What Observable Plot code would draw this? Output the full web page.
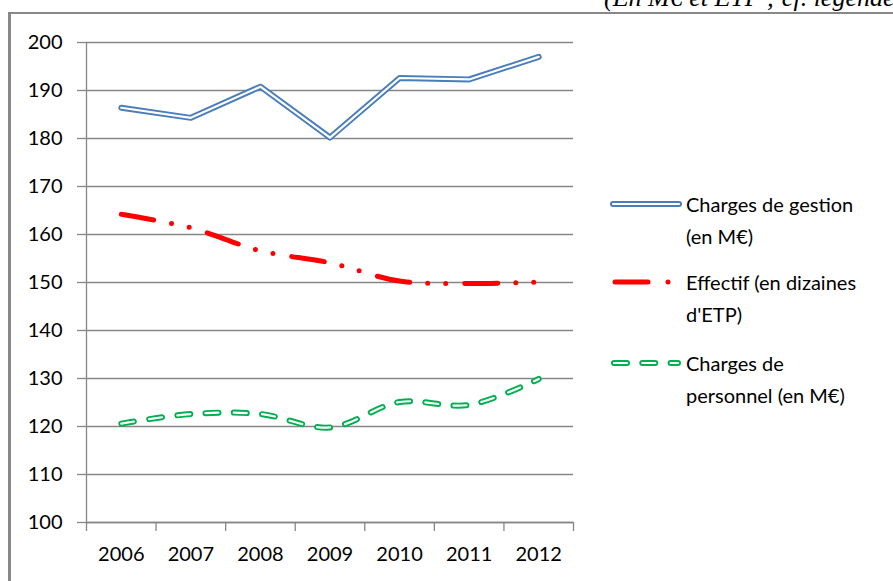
<!DOCTYPE html>
<html>
<head>
<meta charset="utf-8">
<script src="https://cdn.jsdelivr.net/npm/d3@7"></script>
<script src="https://cdn.jsdelivr.net/npm/@observablehq/plot@0.6"></script>
<style>
  html, body { margin: 0; padding: 0; background: #fff; }
  #wrap { position: relative; width: 893px; height: 581px; overflow: hidden; font-family: Lato, "Open Sans", sans-serif; }
  #title { position: absolute; left: 604px; top: -17px; font-family: "Liberation Serif", "DejaVu Serif", serif; font-style: italic; font-size: 26px; white-space: nowrap; color: #000; }
  #frameTop { position: absolute; left: 9px; top: 12px; width: 884px; height: 2px; background: #888; }
  #frameLeft { position: absolute; left: 8px; top: 12px; width: 3px; height: 569px; background: #888; }
  #chart { position: absolute; left: 0; top: 0; }
  .leg { position: absolute; left: 608px; font-size: 20px; line-height: 32px; color: #000; }
  .leg svg { position: absolute; left: 0; top: 0; }
  .leg span { display: block; margin-left: 78px; white-space: nowrap; }
</style>
</head>
<body>
<div id="wrap">
  <div id="title">(En M€ et ETP ; cf. légende)</div>
  <div id="chart"></div>
  <div id="frameTop"></div>
  <div id="frameLeft"></div>
  <div id="legend"></div>
</div>
<script>
const years = [2006, 2007, 2008, 2009, 2010, 2011, 2012];
const chargesGestion = [186.4, 184.3, 190.8, 180.2, 192.6, 192.3, 197.0];
const effectif = [164.2, 161.4, 156.6, 154.1, 150.3, 149.8, 150.1];
const chargesPersonnel = [120.6, 122.6, 122.6, 119.8, 125.1, 124.5, 129.9];
const yTicks = [100, 110, 120, 130, 140, 150, 160, 170, 180, 190, 200];
const seriesNames = ["Charges de gestion|(en M€)", "Effectif (en dizaines|d'ETP)", "Charges de|personnel (en M€)"];
const colors = ["#4a7ebb", "#ff0000", "#00b050"];

const gestion = years.map((y, i) => ({year: y, value: chargesGestion[i]}));
const eff = years.map((y, i) => ({year: y, value: effectif[i]}));
const pers = years.map((y, i) => ({year: y, value: chargesPersonnel[i]}));
const bounds = d3.range(years.length + 1).map(i => years[0] - 0.5 + i);

const chart = Plot.plot({
  width: 893,
  height: 581,
  marginLeft: 86,
  marginRight: 320,
  marginTop: 42,
  marginBottom: 59,
  style: {fontFamily: "Lato, 'Open Sans', sans-serif", fontSize: "20px", color: "#000", background: "transparent"},
  x: {type: "linear", domain: [years[0] - 0.5, years[years.length - 1] + 0.5]},
  y: {domain: [100, 200]},
  marks: [
    Plot.gridY(yTicks, {stroke: "#868686", strokeOpacity: 1, strokeWidth: 1.3}),
    Plot.axisY(yTicks, {tickSize: 9, tickPadding: 15, stroke: "#868686", strokeWidth: 1.3, fontSize: 20, label: null}),
    Plot.axisX(bounds, {tickSize: 9, tickFormat: () => "", stroke: "#868686", strokeWidth: 1.3, label: null}),
    Plot.axisX(years, {tickSize: 0, tickPadding: 24, tickFormat: d => String(d), fontSize: 20, label: null}),
    Plot.ruleX([bounds[0]], {stroke: "#868686", strokeWidth: 1.3}),
    Plot.ruleY([100], {stroke: "#868686", strokeWidth: 1.3}),
    // Charges de gestion: double (hollow) solid line
    Plot.line(gestion, {x: "year", y: "value", stroke: colors[0], strokeWidth: 6}),
    Plot.line(gestion, {x: "year", y: "value", stroke: "#fff", strokeWidth: 2.2}),
    // Effectif: dash-dot-dot, smoothed
    Plot.line(eff, {x: "year", y: "value", curve: "catmull-rom", stroke: colors[1], strokeWidth: 5, strokeLinecap: "round", strokeDasharray: "33 18 0 18 0 19"}),
    // Charges de personnel: double (hollow) dashed, smoothed
    Plot.line(pers, {x: "year", y: "value", curve: "catmull-rom", stroke: colors[2], strokeWidth: 6, strokeLinecap: "round", strokeDasharray: "13 15.3"}),
    Plot.line(pers, {x: "year", y: "value", curve: "catmull-rom", stroke: "#fff", strokeWidth: 2.2, strokeLinecap: "round", strokeDasharray: "13 15.3"})
  ]
});
document.getElementById("chart").appendChild(chart);

// Legend
const legendTops = [188, 266, 347];
const legend = document.getElementById("legend");
const sampleSvgs = [
  `<line x1="5" y1="16" x2="71" y2="16" stroke="${colors[0]}" stroke-width="6" stroke-linecap="round"/><line x1="5" y1="16" x2="71" y2="16" stroke="#fff" stroke-width="2.2" stroke-linecap="round"/>`,
  `<line x1="7" y1="16" x2="40" y2="16" stroke="${colors[1]}" stroke-width="5" stroke-linecap="round"/><circle cx="60" cy="16" r="2.5" fill="${colors[1]}"/>`,
  `<g stroke-linecap="round"><line x1="6" y1="16" x2="70" y2="16" stroke="${colors[2]}" stroke-width="6" stroke-dasharray="13 15.3"/><line x1="6" y1="16" x2="70" y2="16" stroke="#fff" stroke-width="2.2" stroke-dasharray="13 15.3"/></g>`
];
seriesNames.forEach((name, i) => {
  const div = document.createElement("div");
  div.className = "leg";
  div.style.top = legendTops[i] + "px";
  div.innerHTML = `<svg width="78" height="32">${sampleSvgs[i]}</svg>` + name.split("|").map(s => `<span>${s}</span>`).join("");
  legend.appendChild(div);
});
</script>
</body>
</html>
